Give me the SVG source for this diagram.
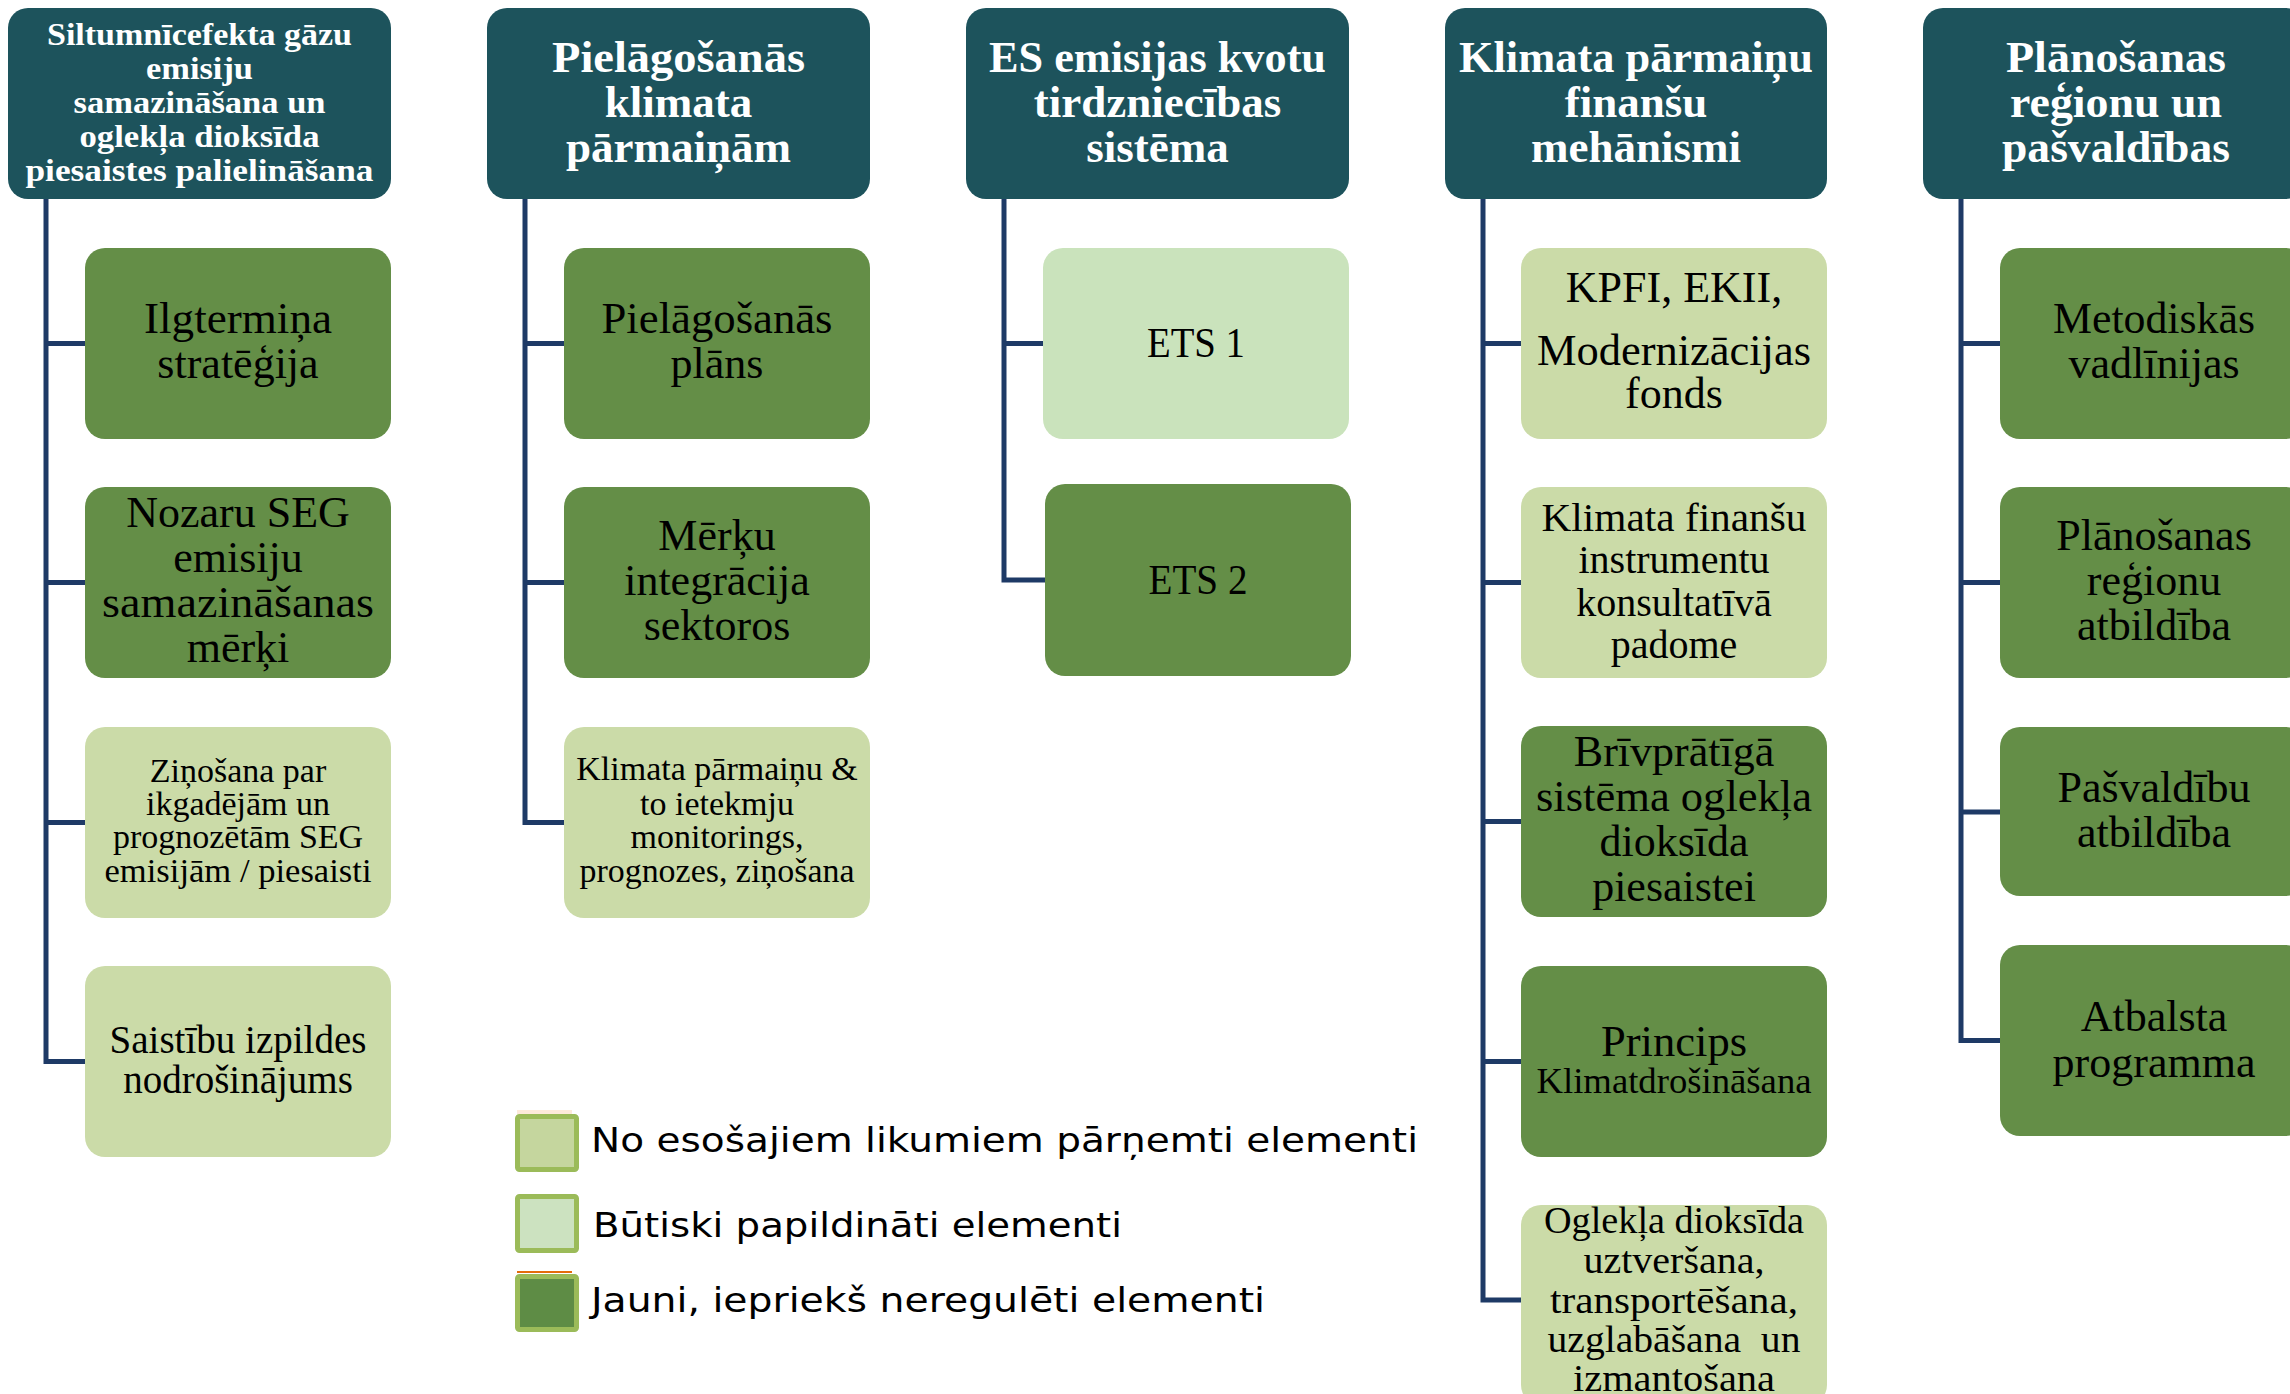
<svg xmlns="http://www.w3.org/2000/svg" width="2290" height="1394" viewBox="0 0 2290 1394">
<style>
.hd{fill:#1D535C}
.dk{fill:#648E47}
.lt{fill:#CBDBA8}
.pl{fill:#CAE3BC}
.ht{font-family:"Liberation Serif",serif;font-weight:bold;fill:#fff;text-anchor:middle;font-size:45px}
.h1t{font-family:"Liberation Serif",serif;font-weight:bold;fill:#fff;text-anchor:middle;font-size:32px}
.t{font-family:"Liberation Serif",serif;fill:#000;text-anchor:middle;font-size:44px;white-space:pre}
.s34{font-size:34px}
.s38{font-size:38px}
.s40{font-size:40px}
.s41{font-size:41px}
.s36{font-size:36px}
.lg{font-family:"DejaVu Sans",sans-serif;fill:#000;font-size:34px}
.cn{fill:none;stroke:#1E3A66;stroke-width:5;stroke-linejoin:miter}
.sq{stroke:#9BBB59;stroke-width:5}
</style>
<rect width="2290" height="1394" fill="#fff"/>
<g id="connectors">
<path class="cn" d="M46,199 V1061.5 H85 M46,343.5 H85 M46,582.5 H85 M46,822.5 H85"/>
<path class="cn" d="M525,199 V822.5 H564 M525,343.5 H564 M525,582.5 H564"/>
<path class="cn" d="M1004,199 V580 H1045 M1004,343.5 H1043"/>
<path class="cn" d="M1483,199 V1300 H1521 M1483,343.5 H1521 M1483,582.5 H1521 M1483,821.5 H1521 M1483,1061.5 H1521"/>
<path class="cn" d="M1961,199 V1040.5 H2000 M1961,343.5 H2000 M1961,582.5 H2000 M1961,812 H2000"/>
</g>
<g id="h1"><rect class="hd" x="8" y="8" width="383" height="191" rx="20"/>
<text class="h1t" x="199.5" y="45" textLength="305" lengthAdjust="spacingAndGlyphs">Siltumnīcefekta gāzu</text>
<text class="h1t" x="199.5" y="79" textLength="107" lengthAdjust="spacingAndGlyphs">emisiju</text>
<text class="h1t" x="199.5" y="113" textLength="252" lengthAdjust="spacingAndGlyphs">samazināšana un</text>
<text class="h1t" x="199.5" y="147" textLength="240" lengthAdjust="spacingAndGlyphs">oglekļa dioksīda</text>
<text class="h1t" x="199.5" y="181" textLength="348" lengthAdjust="spacingAndGlyphs">piesaistes palielināšana</text></g>
<g id="h2"><rect class="hd" x="487" y="8" width="383" height="191" rx="20"/>
<text class="ht" x="678.5" y="72" textLength="253" lengthAdjust="spacingAndGlyphs">Pielāgošanās</text>
<text class="ht" x="678.5" y="117">klimata</text>
<text class="ht" x="678.5" y="162">pārmaiņām</text></g>
<g id="h3"><rect class="hd" x="966" y="8" width="383" height="191" rx="20"/>
<text class="ht" x="1157.5" y="72" textLength="337" lengthAdjust="spacingAndGlyphs">ES emisijas kvotu</text>
<text class="ht" x="1157.5" y="117">tirdzniecības</text>
<text class="ht" x="1157.5" y="162">sistēma</text></g>
<g id="h4"><rect class="hd" x="1445" y="8" width="382" height="191" rx="20"/>
<text class="ht" x="1636" y="72" textLength="354" lengthAdjust="spacingAndGlyphs">Klimata pārmaiņu</text>
<text class="ht" x="1636" y="117">finanšu</text>
<text class="ht" x="1636" y="162">mehānismi</text></g>
<g id="h5"><rect class="hd" x="1923" y="8" width="383" height="191" rx="20"/>
<text class="ht" x="2116" y="72" textLength="220" lengthAdjust="spacingAndGlyphs">Plānošanas</text>
<text class="ht" x="2116" y="117" textLength="212" lengthAdjust="spacingAndGlyphs">reģionu un</text>
<text class="ht" x="2116" y="162" textLength="228" lengthAdjust="spacingAndGlyphs">pašvaldības</text></g>

<g id="c1-1"><rect class="dk" x="85" y="248" width="306" height="191" rx="20"/>
<text class="t" x="238" y="333" textLength="188" lengthAdjust="spacingAndGlyphs">Ilgtermiņa</text>
<text class="t" x="238" y="378">stratēģija</text></g>
<g id="c1-2"><rect class="dk" x="85" y="487" width="306" height="191" rx="20"/>
<text class="t" x="238" y="527">Nozaru SEG</text>
<text class="t" x="238" y="572">emisiju</text>
<text class="t" x="238" y="617" textLength="272" lengthAdjust="spacingAndGlyphs">samazināšanas</text>
<text class="t" x="238" y="662">mērķi</text></g>
<g id="c1-3"><rect class="lt" x="85" y="727" width="306" height="191" rx="20"/>
<text class="t s34" x="238" y="782">Ziņošana par</text>
<text class="t s34" x="238" y="815">ikgadējām un</text>
<text class="t s34" x="238" y="848">prognozētām SEG</text>
<text class="t s34" x="238" y="882" textLength="267" lengthAdjust="spacingAndGlyphs">emisijām / piesaisti</text></g>
<g id="c1-4"><rect class="lt" x="85" y="966" width="306" height="191" rx="20"/>
<text class="t" x="238" y="1053" style="font-size:39px" textLength="257" lengthAdjust="spacingAndGlyphs">Saistību izpildes</text>
<text class="t" x="238" y="1093" style="font-size:39px">nodrošinājums</text></g>

<g id="c2-1"><rect class="dk" x="564" y="248" width="306" height="191" rx="20"/>
<text class="t" x="717" y="333" textLength="231" lengthAdjust="spacingAndGlyphs">Pielāgošanās</text>
<text class="t" x="717" y="378">plāns</text></g>
<g id="c2-2"><rect class="dk" x="564" y="487" width="306" height="191" rx="20"/>
<text class="t" x="717" y="549.5">Mērķu</text>
<text class="t" x="717" y="594.5">integrācija</text>
<text class="t" x="717" y="639.5">sektoros</text></g>
<g id="c2-3"><rect class="lt" x="564" y="727" width="306" height="191" rx="20"/>
<text class="t s34" x="717" y="780">Klimata pārmaiņu &amp;</text>
<text class="t s34" x="717" y="815">to ietekmju</text>
<text class="t s34" x="717" y="848">monitorings,</text>
<text class="t s34" x="717" y="882" textLength="275" lengthAdjust="spacingAndGlyphs">prognozes, ziņošana</text></g>

<g id="c3-1"><rect class="pl" x="1043" y="248" width="306" height="191" rx="20"/>
<text class="t" x="1196" y="357" style="font-size:42px" textLength="98" lengthAdjust="spacingAndGlyphs">ETS 1</text></g>
<g id="c3-2"><rect class="dk" x="1045" y="484" width="306" height="192" rx="20"/>
<text class="t" x="1198" y="594" style="font-size:42px" textLength="99" lengthAdjust="spacingAndGlyphs">ETS 2</text></g>

<g id="c4-1"><rect class="lt" x="1521" y="248" width="306" height="191" rx="20"/>
<text class="t" x="1674" y="302">KPFI, EKII,</text>
<text class="t" x="1674" y="365" textLength="274" lengthAdjust="spacingAndGlyphs">Modernizācijas</text>
<text class="t" x="1674" y="408">fonds</text></g>
<g id="c4-2"><rect class="lt" x="1521" y="487" width="306" height="191" rx="20"/>
<text class="t s40" x="1674" y="531" textLength="265" lengthAdjust="spacingAndGlyphs">Klimata finanšu</text>
<text class="t s40" x="1674" y="573">instrumentu</text>
<text class="t s40" x="1674" y="616">konsultatīvā</text>
<text class="t s40" x="1674" y="658">padome</text></g>
<g id="c4-3"><rect class="dk" x="1521" y="726" width="306" height="191" rx="20"/>
<text class="t" x="1674" y="766">Brīvprātīgā</text>
<text class="t" x="1674" y="811" textLength="276" lengthAdjust="spacingAndGlyphs">sistēma oglekļa</text>
<text class="t" x="1674" y="856">dioksīda</text>
<text class="t" x="1674" y="901">piesaistei</text></g>
<g id="c4-4"><rect class="dk" x="1521" y="966" width="306" height="191" rx="20"/>
<text class="t" x="1674" y="1056" textLength="146" lengthAdjust="spacingAndGlyphs">Princips</text>
<text class="t s36" x="1674" y="1093" textLength="275" lengthAdjust="spacingAndGlyphs">Klimatdrošināšana</text></g>
<g id="c4-5"><rect class="lt" x="1521" y="1205" width="306" height="200" rx="20"/>
<text class="t s38" x="1674" y="1233" textLength="260" lengthAdjust="spacingAndGlyphs">Oglekļa dioksīda</text>
<text class="t s38" x="1674" y="1273" textLength="181" lengthAdjust="spacingAndGlyphs">uztveršana,</text>
<text class="t s38" x="1674" y="1313" textLength="248" lengthAdjust="spacingAndGlyphs">transportēšana,</text>
<text class="t s38" x="1674" y="1352" textLength="253" lengthAdjust="spacingAndGlyphs">uzglabāšana  un</text>
<text class="t s38" x="1674" y="1391" textLength="202" lengthAdjust="spacingAndGlyphs">izmantošana</text></g>

<g id="c5-1"><rect class="dk" x="2000" y="248" width="306" height="191" rx="20"/>
<text class="t" x="2154" y="333" textLength="202" lengthAdjust="spacingAndGlyphs">Metodiskās</text>
<text class="t" x="2154" y="378">vadlīnijas</text></g>
<g id="c5-2"><rect class="dk" x="2000" y="487" width="306" height="191" rx="20"/>
<text class="t" x="2154" y="550">Plānošanas</text>
<text class="t" x="2154" y="595">reģionu</text>
<text class="t" x="2154" y="640">atbildība</text></g>
<g id="c5-3"><rect class="dk" x="2000" y="727" width="306" height="169" rx="20"/>
<text class="t" x="2154" y="802">Pašvaldību</text>
<text class="t" x="2154" y="847">atbildība</text></g>
<g id="c5-4"><rect class="dk" x="2000" y="945" width="306" height="191" rx="20"/>
<text class="t" x="2154" y="1031">Atbalsta</text>
<text class="t" x="2154" y="1077">programma</text></g>

<g id="legend">
<rect x="517" y="1110" width="55" height="4" fill="#FDEADA"/>
<rect class="sq" x="517.5" y="1116.5" width="59" height="53" rx="2" fill="#C5D69E"/>
<rect class="sq" x="517.5" y="1196.5" width="59" height="54" rx="2" fill="#CCE2C0"/>
<rect x="517" y="1271" width="55" height="2" fill="#E46C0A"/>
<rect class="sq" x="517.5" y="1276.5" width="59" height="53" rx="2" fill="#5E8C45"/>
<text class="lg" x="591" y="1152" textLength="827" lengthAdjust="spacingAndGlyphs">No esošajiem likumiem pārņemti elementi</text>
<text class="lg" x="593" y="1237" textLength="529" lengthAdjust="spacingAndGlyphs">Būtiski papildināti elementi</text>
<text class="lg" x="591" y="1312" textLength="674" lengthAdjust="spacingAndGlyphs">Jauni, iepriekš neregulēti elementi</text>
</g>
</svg>
